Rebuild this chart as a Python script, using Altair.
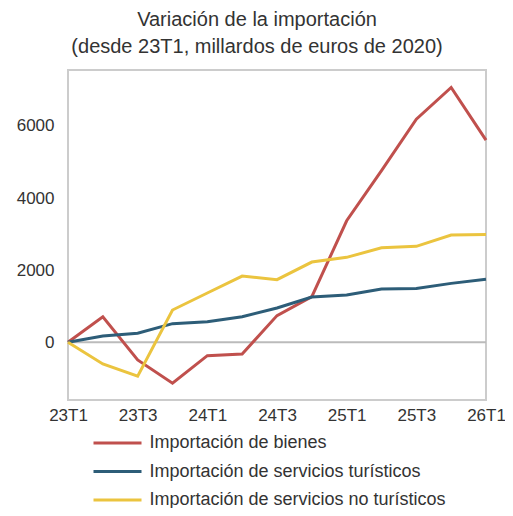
import altair as alt
import pandas as pd

quarters = ["23T1", "23T2", "23T3", "23T4", "24T1", "24T2", "24T3", "24T4",
            "25T1", "25T2", "25T3", "25T4", "26T1"]
tick_labels = ["23T1", "23T3", "24T1", "24T3", "25T1", "25T3", "26T1"]
series_names = ["Importación de bienes",
                "Importación de servicios turísticos",
                "Importación de servicios no turísticos"]
bienes = [0, 710, -490, -1135, -370, -323, 740, 1265, 3370, 4760, 6185, 7065, 5605]
turisticos = [0, 175, 250, 517, 572, 710, 950, 1255, 1310, 1477, 1495, 1634, 1745]
no_turisticos = [0, -600, -942, 895, 1367, 1837, 1736, 2225, 2355, 2622, 2660, 2973, 2992]
colors = ["#c0504d", "#2d5d78", "#ebc43f"]

rows = []
for name, vals in zip(series_names, [bienes, turisticos, no_turisticos]):
    for q, v in zip(quarters, vals):
        rows.append({"q": q, "value": v, "serie": name})
df = pd.DataFrame(rows)
zero = pd.DataFrame({"value": [0]})

FONT = "Liberation Sans"

y_enc = alt.Y("value:Q",
              scale=alt.Scale(domain=[-1600, 7550], nice=False, zero=False),
              axis=alt.Axis(values=[0, 2000, 4000, 6000], format="d", title=None, grid=False,
                            domain=False, ticks=False, labelFontSize=17,
                            labelColor="#333333", labelPadding=14, labelFont=FONT))

rule = alt.Chart(zero).mark_rule(color="#bbbbbb", strokeWidth=2).encode(y=y_enc)

lines = alt.Chart(df).mark_line(strokeWidth=3).encode(
    x=alt.X("q:O", sort=quarters, scale=alt.Scale(type="point", padding=0),
            axis=alt.Axis(values=tick_labels, labelAngle=0, title=None, grid=False,
                          domain=False, ticks=False, labelFontSize=17,
                          labelColor="#333333", labelPadding=7, labelFont=FONT)),
    y=y_enc,
    color=alt.Color("serie:N", sort=series_names,
                    scale=alt.Scale(domain=series_names, range=colors),
                    legend=alt.Legend(title=None, orient="none", legendX=40.5, legendY=364,
                                      direction="vertical", padding=0,
                                      symbolType="M-4.8,0H4.8", symbolSize=100,
                                      symbolStrokeWidth=3, labelOffset=23,
                                      labelFontSize=18, labelColor="#333333",
                                      labelFont=FONT, rowPadding=10.5, labelLimit=400)),
)

chart = alt.layer(rule, lines).properties(
    width=418, height=330,
    title=alt.TitleParams(["Variación de la importación",
                           "(desde 23T1, millardos de euros de 2020)"],
                          fontSize=20, font=FONT, fontWeight="normal", color="#333333",
                          anchor="middle", frame="group", dx=-20, offset=13,
                          lineHeight=27),
    autosize=alt.AutoSizeParams(type="none"),
    padding={"left": 60, "top": 62, "right": 19, "bottom": 108},
).configure_view(stroke="#cccccc", strokeWidth=2)

chart.save("out.html", embed_options={"renderer": "svg", "actions": False})
